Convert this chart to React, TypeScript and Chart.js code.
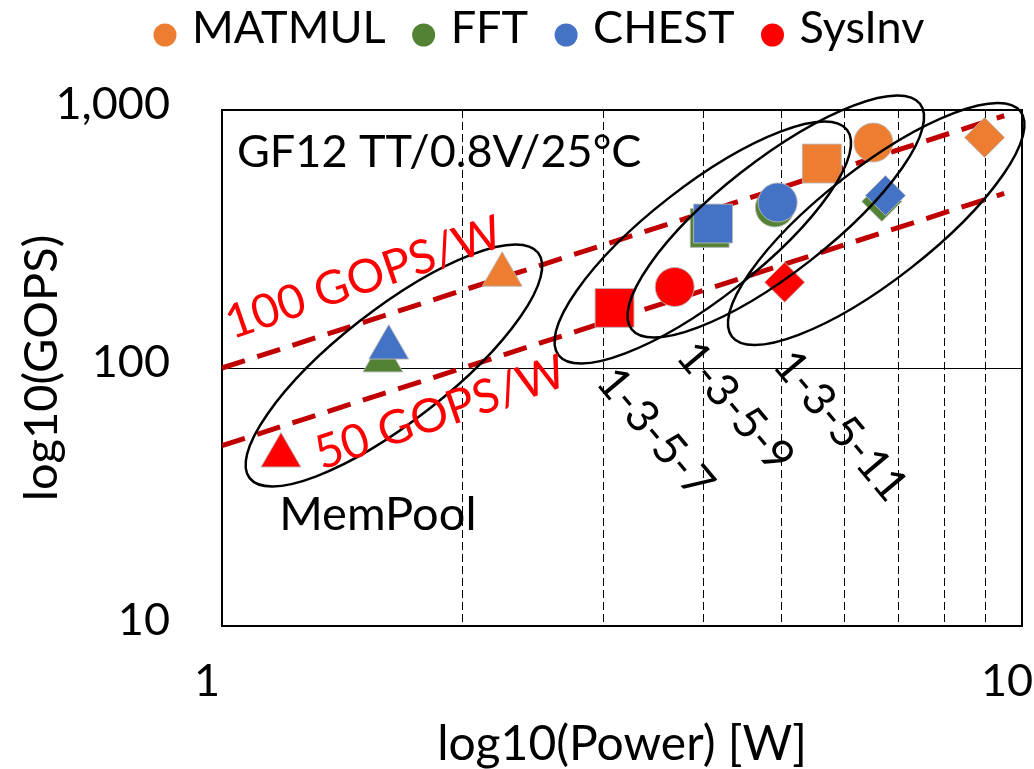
import React, { useEffect, useRef } from 'react';
import { Chart, registerables } from 'chart.js';

Chart.register(...registerables);

// ---------------- data ----------------
const seriesNames = ['MATMUL', 'FFT', 'CHEST', 'SysInv'];
const seriesColors = ['#ED7D31', '#548235', '#4472C4', '#FF0000'];

// point index -> configuration (MemPool, 1-3-5-7, 1-3-5-9, 1-3-5-11)
const configNames = ['MemPool', '1-3-5-7', '1-3-5-9', '1-3-5-11'];
const configShapes = ['triangle', 'rect', 'circle', 'rectRot'];

const matmulPowerW = [2.24, 5.62, 6.52, 8.98];
const matmulGops = [230, 620, 748, 782];
const fftPowerW = [1.589, 4.07, 4.91, 6.68];
const fftGops = [107, 349, 419, 442];
const chestPowerW = [1.616, 4.11, 4.95, 6.75];
const chestGops = [120, 363, 438, 466];
const sysinvPowerW = [1.185, 3.095, 3.68, 5.05];
const sysinvGops = [45.8, 171, 206, 215];

const efficiencyLabels = ['100 GOPS/W', '50 GOPS/W'];
const efficiencyGopsPerW = [100, 50];
const efficiencyPowerSpan = [1, 9.5];

const xGridValues = [1, 2, 3, 4, 5, 6, 7, 8, 9, 10];
const xTickValues = [1, 10];
const xTickLabels = ['1', '10'];
const yGridValues = [10, 100, 1000];
const yTickLabels = ['10', '100', '1,000'];

const xAxisTitle = 'log10(Power) [W]';
const yAxisTitle = 'log10(GOPS)';
const conditionsNote = 'GF12 TT/0.8V/25°C';

// ---------------- styling / annotation layout ----------------
const FONT = 'Lato, "Open Sans", "DejaVu Sans", sans-serif';
const markerRadius: any = { triangle: 23, rect: 27.5, circle: 19.5, rectRot: 20 };

// annotation geometry expressed in data space (power W, GOPS)
const clusterEllipses = [
  { x: 1.64, y: 102.3 },
  { x: 3.99, y: 306.5 },
  { x: 4.923, y: 386.6 },
  { x: 6.573, y: 361.5 },
];
const clusterLabelAnchors = [
  { x: 1.566, y: 26.9, rot: 0, size: 47 },
  { x: 3.48, y: 56.0, rot: 50, size: 45 },
  { x: 4.38, y: 70.6, rot: 50, size: 45 },
  { x: 5.93, y: 59.6, rot: 50, size: 45 },
];
const efficiencyLabelAnchors = [
  { x: 1.504, y: 223, rot: -19 },
  { x: 1.875, y: 66.9, rot: -19 },
];

const seriesPower = [matmulPowerW, fftPowerW, chestPowerW, sysinvPowerW];
const seriesGops = [matmulGops, fftGops, chestGops, sysinvGops];
const drawOrder = [3, 2, 1, 3];

function matchTick(v: number, values: number[], labels: string[]) {
  const k = values.findIndex((t) => Math.abs(t - v) / t < 1e-6);
  return k >= 0 ? labels[k] : '';
}

function drawRotatedText(ctx: any, text: string, x: number, y: number, rotDeg: number, font: string, color: string) {
  ctx.save();
  ctx.translate(x, y);
  ctx.rotate((rotDeg * Math.PI) / 180);
  ctx.font = font;
  ctx.fillStyle = color;
  ctx.textAlign = 'center';
  ctx.textBaseline = 'middle';
  ctx.fillText(text, 0, 0);
  ctx.restore();
}

const annotationPlugin = {
  id: 'perfAnnotations',
  beforeDatasetsDraw(chart: any) {
    const { ctx, chartArea } = chart;
    ctx.save();
    ctx.strokeStyle = '#000';
    ctx.lineWidth = 2;
    ctx.strokeRect(chartArea.left, chartArea.top, chartArea.right - chartArea.left, chartArea.bottom - chartArea.top);
    ctx.restore();
  },
  afterDatasetsDraw(chart: any) {
    const { ctx, chartArea } = chart;
    const xs = chart.scales.x;
    const ys = chart.scales.y;

    // cluster ellipses
    ctx.save();
    ctx.strokeStyle = '#000';
    ctx.lineWidth = 2.5;
    clusterEllipses.forEach((e) => {
      const cx = xs.getPixelForValue(e.x);
      const cy = ys.getPixelForValue(e.y);
      ctx.beginPath();
      ctx.ellipse(cx, cy, 183, 56, (-38 * Math.PI) / 180, 0, Math.PI * 2);
      ctx.stroke();
    });
    ctx.restore();

    // efficiency labels
    efficiencyLabels.forEach((t, k) => {
      const a = efficiencyLabelAnchors[k];
      drawRotatedText(ctx, t, xs.getPixelForValue(a.x), ys.getPixelForValue(a.y), a.rot, `47px ${FONT}`, '#FF0000');
    });

    // configuration labels
    configNames.forEach((t, k) => {
      const a = clusterLabelAnchors[k];
      drawRotatedText(ctx, t, xs.getPixelForValue(a.x), ys.getPixelForValue(a.y), a.rot, `${a.size}px ${FONT}`, '#000');
    });

    // conditions note
    ctx.save();
    ctx.font = `45px ${FONT}`;
    ctx.fillStyle = '#000';
    ctx.textAlign = 'left';
    ctx.textBaseline = 'alphabetic';
    ctx.fillText(conditionsNote, chartArea.left + 15, chartArea.top + 57);
    ctx.restore();
  },
  afterDraw(chart: any) {
    // legend
    const { ctx } = chart;
    ctx.save();
    ctx.font = `45px ${FONT}`;
    ctx.textAlign = 'left';
    ctx.textBaseline = 'alphabetic';
    let dotX = 165;
    seriesNames.forEach((name, i) => {
      ctx.fillStyle = seriesColors[i];
      ctx.beginPath();
      ctx.arc(dotX, 35, 11.5, 0, Math.PI * 2);
      ctx.fill();
      ctx.fillStyle = '#000';
      const tx = dotX + 27;
      ctx.fillText(name, tx, 43);
      dotX = tx + ctx.measureText(name).width + 38;
    });
    ctx.restore();
  },
};

export default function App() {
  const ref = useRef<HTMLCanvasElement>(null);

  useEffect(() => {
    const scatterSets: any[] = seriesNames.map((name, s) => ({
      type: 'scatter',
      label: name,
      data: seriesPower[s].map((p, i) => ({ x: p, y: seriesGops[s][i] })),
      pointStyle: configShapes,
      pointRadius: configShapes.map((sh) => markerRadius[sh]),
      pointHoverRadius: configShapes.map((sh) => markerRadius[sh]),
      backgroundColor: seriesColors[s],
      borderColor: 'rgba(185,185,185,0.9)',
      borderWidth: 1,
      order: drawOrder[s],
    }));
    const lineSets: any[] = efficiencyLabels.map((label, k) => ({
      type: 'line',
      label,
      data: efficiencyPowerSpan.map((p) => ({ x: p, y: p * efficiencyGopsPerW[k] })),
      borderColor: '#C00000',
      borderWidth: 5,
      borderDash: [24, 13],
      pointRadius: 0,
      fill: false,
      tension: 0,
      order: 10,
    }));

    const chart = new Chart(ref.current as HTMLCanvasElement, {
      type: 'scatter',
      data: { datasets: [...lineSets, ...scatterSets] },
      options: {
        responsive: false,
        animation: false,
        events: [],
        layout: { autoPadding: false, padding: { top: 110, right: 12, left: 0, bottom: 0 } },
        plugins: { legend: { display: false }, tooltip: { enabled: false } },
        scales: {
          x: {
            type: 'logarithmic',
            position: 'bottom',
            min: 1,
            max: 10,
            afterBuildTicks: (s: any) => {
              s.ticks = xGridValues.map((v) => ({ value: v }));
            },
            afterFit: (s: any) => {
              s.height = 143;
              s.paddingLeft = 0;
              s.paddingRight = 0;
            },
            ticks: {
              autoSkip: false,
              maxRotation: 0,
              minRotation: 0,
              padding: 28,
              labelOffset: -15,
              color: '#000',
              font: { family: FONT, size: 45 },
              callback: (v: any) => matchTick(Number(v), xTickValues, xTickLabels),
            },
            grid: {
              drawTicks: false,
              lineWidth: 1,
              color: (c: any) =>
                c.tick && xTickValues.some((t) => Math.abs(t - c.tick.value) / t < 1e-6) ? 'rgba(0,0,0,0)' : '#000',
            },
            border: { display: false, dash: [8, 4] },
            title: {
              display: true,
              text: xAxisTitle,
              color: '#000',
              font: { family: FONT, size: 48, lineHeight: 1 },
              padding: { top: 0, bottom: 0 },
            },
          },
          y: {
            type: 'logarithmic',
            position: 'left',
            min: 10,
            max: 1000,
            afterBuildTicks: (s: any) => {
              s.ticks = yGridValues.map((v) => ({ value: v }));
            },
            afterFit: (s: any) => {
              s.width = 222;
              s.paddingTop = 0;
              s.paddingBottom = 0;
            },
            ticks: {
              autoSkip: false,
              padding: 52,
              labelOffset: -6,
              color: '#000',
              font: { family: FONT, size: 45 },
              callback: (v: any) => matchTick(Number(v), yGridValues, yTickLabels),
            },
            grid: {
              drawTicks: false,
              lineWidth: 1,
              color: (c: any) => (c.tick && Math.abs(c.tick.value - 100) < 1e-6 ? '#000' : 'rgba(0,0,0,0)'),
            },
            border: { display: false },
            title: {
              display: true,
              text: yAxisTitle,
              color: '#000',
              font: { family: FONT, size: 47, lineHeight: 1 },
              padding: { top: 18, bottom: 0 },
            },
          },
        },
      } as any,
      plugins: [annotationPlugin as any],
    } as any);
    return () => chart.destroy();
  }, []);

  return (
    <div style={{ position: 'fixed', left: 0, top: 0, width: 1034, height: 769, background: '#fff' }}>
      <canvas ref={ref} width={1034} height={769} style={{ display: 'block', width: 1034, height: 769 }} />
    </div>
  );
}
